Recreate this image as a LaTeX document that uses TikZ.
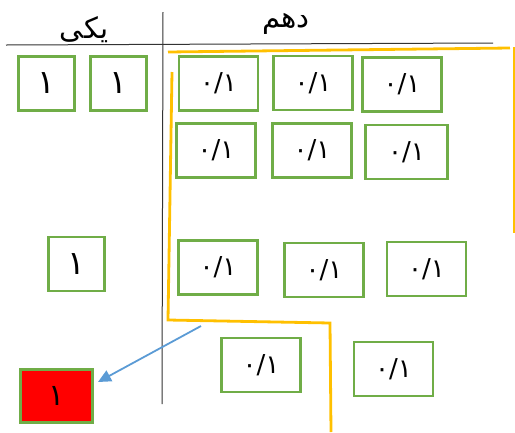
\documentclass[tikz,border=0pt]{standalone}
\usepackage{fontspec}
\usetikzlibrary{arrows.meta}
\TeXXeTstate=1
\newfontfamily\arabicfont[Script=Arabic]{DejaVu Sans}
\definecolor{boxgreen}{HTML}{70AD47}
\definecolor{lineorange}{HTML}{FFC000}
\definecolor{arrowblue}{HTML}{5B9BD5}
\tikzset{
  numbox/.style={draw=boxgreen, line width=2.4pt, inner sep=0pt, font=\arabicfont\fontsize{26}{28}\selectfont},
  onebox/.style={numbox, minimum width=56pt, minimum height=54pt, font=\arabicfont\fontsize{33}{35}\selectfont},
  tenthbox/.style={numbox, minimum width=79pt, minimum height=54pt},
  redbox/.style={numbox, fill=red, minimum width=72pt, minimum height=53pt, font=\arabicfont\fontsize{30}{32}\selectfont},
  header/.style={font=\arabicfont\fontsize{29}{31}\selectfont, inner sep=0pt},
  rule/.style={draw=black!80, line width=1pt},
  orangeline/.style={draw=lineorange, line width=2.8pt},
  movearrow/.style={draw=arrowblue, line width=1.8pt, -{Triangle[length=13pt,width=12pt]}}
}
\begin{document}
\begin{tikzpicture}[x=1pt,y=-1pt]
\useasboundingbox (0,0) rectangle (515,432);
% headers
\node[header] (hone) at (84,30) {\beginR یکی\endR};
\node[header] (hten) at (286,24) {\beginR دهم\endR};
% rules
\coordinate (hl1) at (6,45);
\coordinate (hl2) at (493,43);
\coordinate (vl1) at (163,12);
\coordinate (vl2) at (162,404);
\draw[rule] (hl1) -- (hl2);
\draw[rule] (vl1) -- (vl2);
% orange boundary
\coordinate (o1) at (168,52);
\coordinate (o2) at (510,48);
\coordinate (o3) at (514,47);
\coordinate (o4) at (514,233);
\coordinate (o5) at (172,72);
\coordinate (o6) at (168,320);
\coordinate (o7) at (330,323);
\coordinate (o8) at (331,432);
\draw[orangeline] (o1) -- (o2);
\draw[orangeline] (o3) -- (o4);
\draw[orangeline] (o5) -- (o6) -- (o7) -- (o8);
% ones
\node[onebox] (L1) at (46.5,83.5) {۱};
\node[onebox] (L2) at (118.5,83.5) {۱};
\node[onebox] (L3) at (76.5,264) {۱};
% tenths
\node[tenthbox] (T1) at (218.5,83.5) {۰/۱};
\node[tenthbox] (T2) at (313,83) {۰/۱};
\node[tenthbox] (T3) at (402,84.5) {۰/۱};
\node[tenthbox] (T4) at (216,150.5) {۰/۱};
\node[tenthbox] (T5) at (312,150.5) {۰/۱};
\node[tenthbox, minimum width=82pt] (T6) at (406.5,152) {۰/۱};
\node[tenthbox] (T7) at (218,267.5) {۰/۱};
\node[tenthbox] (T8) at (324,270) {۰/۱};
\node[tenthbox] (T9) at (426.5,269) {۰/۱};
\node[tenthbox] (T10) at (261,365) {۰/۱};
\node[tenthbox] (T11) at (393.5,369) {۰/۱};
% red result
\node[redbox] (R) at (56.5,396) {۱};
% arrow
\coordinate (atail) at (201,326);
\coordinate (ahead) at (98,382);
\draw[movearrow] (atail) -- (ahead);
\end{tikzpicture}
\end{document}
